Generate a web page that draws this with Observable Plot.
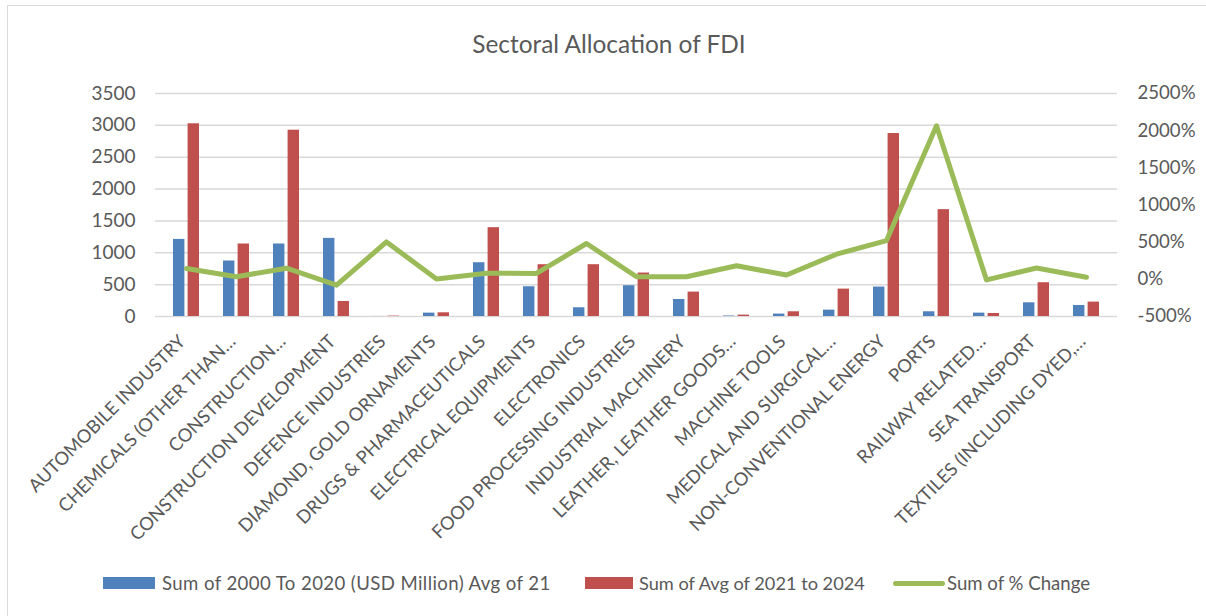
<!DOCTYPE html>
<html><head><meta charset="utf-8">
<script src="https://cdn.jsdelivr.net/npm/d3@7"></script>
<script src="https://cdn.jsdelivr.net/npm/@observablehq/plot@0.6"></script>
<style>
body{margin:0;background:#fff;font-family:Lato,"Open Sans",sans-serif;}
#wrap{position:relative;width:1206px;height:616px;overflow:hidden;background:#fff;}
#frame{position:absolute;left:7px;top:5px;width:1260px;height:700px;border:1.5px solid #d9d9d9;box-sizing:border-box;}
#title{position:absolute;left:0;width:1218px;top:29px;text-align:center;font-size:24.4px;color:#595959;line-height:30px;}
#chart{position:absolute;left:0;top:0;}
.leg{position:absolute;top:570px;height:26px;font-size:18.6px;color:#595959;display:flex;align-items:center;white-space:nowrap;}
.sw{display:inline-block;height:12px;margin-right:7px;}
.ln{display:inline-block;height:5px;border-radius:3px;margin-right:2px;background:#9BBB59;}
</style></head>
<body>
<div id="wrap">
  <div id="frame"></div>
  <div id="title">Sectoral Allocation of FDI</div>
  <div id="chart"></div>
  <div class="leg" style="left:103px"><span class="sw" style="width:52px;background:#4F81BD"></span><span style="letter-spacing:0.4px">Sum of 2000 To 2020 (USD Million) Avg of 21</span></div>
  <div class="leg" style="left:585px;font-size:18.2px"><span class="sw" style="width:48px;background:#C0504D;margin-right:6px"></span>Sum of Avg of 2021 to 2024</div>
  <div class="leg" style="left:893px"><span class="ln" style="width:52px"></span>Sum of % Change</div>
</div>
<script>
const categories = ["AUTOMOBILE INDUSTRY","CHEMICALS (OTHER THAN…","CONSTRUCTION…","CONSTRUCTION DEVELOPMENT","DEFENCE INDUSTRIES","DIAMOND, GOLD ORNAMENTS","DRUGS & PHARMACEUTICALS","ELECTRICAL EQUIPMENTS","ELECTRONICS","FOOD PROCESSING INDUSTRIES","INDUSTRIAL MACHINERY","LEATHER, LEATHER GOODS…","MACHINE TOOLS","MEDICAL AND SURGICAL…","NON-CONVENTIONAL ENERGY","PORTS","RAILWAY RELATED…","SEA TRANSPORT","TEXTILES (INCLUDING DYED,…"];
const avg2000to2020 = [1210, 871, 1138, 1226, 1, 53, 844, 467, 137, 483, 267, 8, 38, 100, 462, 74, 53, 215, 173];
const avg2021to2024 = [3025, 1138, 2924, 236, 6, 58, 1394, 813, 813, 682, 383, 22, 74, 430, 2872, 1677, 47, 530, 226];
const pctChange = [145, 35, 150, -78, 503, 5, 82, 80, 482, 35, 35, 183, 58, 338, 521, 2065, -8, 152, 27];
const leftTicks = [0, 500, 1000, 1500, 2000, 2500, 3000, 3500];
const rightTicks = [-500, 0, 500, 1000, 1500, 2000, 2500];

const toLeft = v => (v + 500) / 3000 * 3500;
const rows = categories.map((c, i) => ({cat: c, a: avg2000to2020[i], b: avg2021to2024[i], p: pctChange[i]}));

const chart = Plot.plot({
  width: 1206, height: 560,
  marginTop: 93, marginBottom: 244, marginLeft: 155, marginRight: 89,
  style: {fontFamily: "Lato", color: "#595959", background: "transparent", overflow: "visible"},
  x: {domain: categories, padding: 0, axis: null},
  y: {domain: [0, 3500], axis: null},
  marks: [
    Plot.ruleY(leftTicks, {stroke: "#d9d9d9", strokeWidth: 1.5}),
    Plot.barY(rows, {x: "cat", y: "a", fill: "#4F81BD", insetLeft: 19.3, insetRight: 19.3, dx: -7.3}),
    Plot.barY(rows, {x: "cat", y: "b", fill: "#C0504D", insetLeft: 19.3, insetRight: 19.3, dx: 7.3}),
    Plot.line(rows, {x: "cat", y: d => toLeft(d.p), stroke: "#9BBB59", strokeWidth: 5, strokeLinejoin: "round", strokeLinecap: "round"}),
    Plot.text(leftTicks, {y: d => d, frameAnchor: "left", dx: -20, textAnchor: "end", text: d => String(d), fontSize: 19, fill: "#595959"}),
    Plot.text(rightTicks, {y: d => toLeft(d), frameAnchor: "right", dx: 20, textAnchor: "start", text: d => d + "%", fontSize: 18.6, fill: "#595959"}),
    Plot.text(categories, {x: d => d, frameAnchor: "bottom", rotate: -45, textAnchor: "end", lineAnchor: "middle", dx: -4, dy: 22, fontSize: 18.3, fill: "#595959"})
  ]
});
document.getElementById("chart").appendChild(chart);
</script>
</body></html>
